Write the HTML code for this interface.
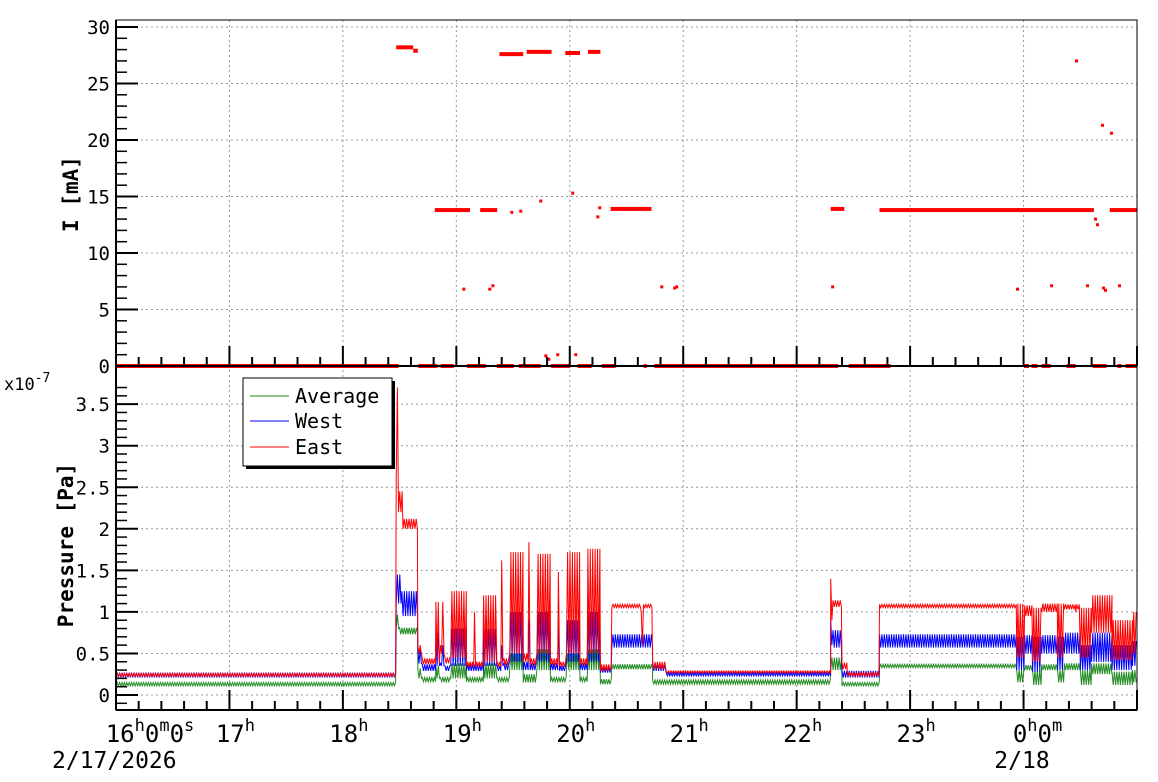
<!DOCTYPE html>
<html><head><meta charset="utf-8"><style>
html,body{margin:0;padding:0;background:#fff;}
svg{display:block;font-family:"DejaVu Sans Mono","Liberation Mono",monospace;}
</style></head><body>
<svg id="chart" width="1158" height="782" viewBox="0 0 1158 782" xmlns="http://www.w3.org/2000/svg">
<rect x="0" y="0" width="1158" height="782" fill="#fff"/>
<g id="grid"></g>
<g id="marks"></g>
<g id="axes"></g>
<text x="78" y="194" transform="rotate(-90 78 194)" text-anchor="middle" font-size="21" font-weight="bold">I [mA]</text>
<text x="73" y="545" transform="rotate(-90 73 545)" text-anchor="middle" font-size="21" font-weight="bold">Pressure [Pa]</text>
<text x="4" y="390" font-size="17">x10<tspan dy="-8" font-size="13">-7</tspan></text>
<g>
<rect x="246" y="381" width="149" height="88" fill="#000"/>
<rect x="243" y="378" width="149" height="88" fill="#fff" stroke="#000" stroke-width="1"/>
<g><line x1="250" y1="396" x2="289" y2="396" stroke="#228b22"/><text x="295" y="403" font-size="20">Average</text></g>
<g><line x1="250" y1="421" x2="289" y2="421" stroke="#0000ff"/><text x="295" y="428" font-size="20">West</text></g>
<g><line x1="250" y1="447" x2="289" y2="447" stroke="#ff0000"/><text x="295" y="454" font-size="20">East</text></g>
</g>
</svg>
<script>
// ---- data ----
const hourTicks = [16,17,18,19,20,21,22,23,24];
const hourLabels = ["16","17","18","19","20","21","22","23","0"];
const currentTicks = [0,5,10,15,20,25,30];
const pressureTicks = [0,0.5,1,1.5,2,2.5,3,3.5];
const pressureTickLabels = ["0","0.5","1","1.5","2","2.5","3","3.5"];
// current clusters: start hour, end hour, level mA
const clusterStart = [18.47,18.62,19.38,19.62,19.96,20.16,18.81,19.21,20.36,22.30,22.73,24.76];
const clusterEnd   = [18.62,18.66,19.59,19.84,20.09,20.27,19.12,19.36,20.72,22.42,24.62,25.0];
const clusterLevel = [28.2,27.9,27.6,27.8,27.7,27.8,13.8,13.8,13.9,13.9,13.8,13.8];
// isolated current samples
const singleT = [19.489,19.568,19.744,20.026,20.247,20.264,19.066,19.295,19.322,20.811,20.925,20.943,22.317,23.947,24.247,24.564,24.705,24.722,24.846,24.467,24.696,24.775,24.634,24.652,19.789,19.815,19.894,20.053];
const singleI = [13.6,13.7,14.6,15.3,13.2,14.0,6.8,6.8,7.1,7.0,6.9,7.0,7.0,6.8,7.1,7.1,6.9,6.7,7.1,27.0,21.3,20.6,13.0,12.5,0.9,0.6,1.0,1.0];
// zero-current segments
const zeroStart = [16.0,18.665,18.861,19.093,19.357,19.551,19.833,20.07,20.282,20.652,20.745,22.458,24.004,24.07,24.159,24.379,24.608,24.828,24.899];
const zeroEnd   = [18.49,18.834,18.978,19.26,19.507,19.744,20.004,20.194,20.405,20.678,22.366,22.828,24.048,24.123,24.238,24.458,24.731,24.863,25.0];
// pressure segments (x1e-7 Pa): [start h, end h, low, high]
const eastSeg = [
[16.0,18.47,0.225,0.26],[18.47,18.49,2.6,3.7],[18.49,18.53,2.2,2.45],[18.53,18.66,2.0,2.12],
[18.66,18.70,0.5,0.6],[18.70,18.82,0.37,0.44],[18.82,18.85,0.45,1.12],[18.85,18.87,0.38,0.6],
[18.87,18.90,0.5,1.12],[18.90,18.95,0.38,0.45],[18.95,19.09,0.45,1.25],[19.09,19.16,0.34,0.4],
[19.16,19.17,0.35,1.0],[19.17,19.24,0.34,0.4],[19.24,19.36,0.4,1.2],[19.36,19.40,0.34,0.4],
[19.40,19.42,0.4,1.62],[19.42,19.47,0.36,0.44],[19.47,19.59,0.5,1.72],[19.59,19.64,0.4,0.5],
[19.64,19.65,0.5,1.84],[19.65,19.71,0.36,0.44],[19.71,19.83,0.5,1.7],[19.83,19.90,0.36,0.44],
[19.90,19.91,0.4,1.48],[19.91,19.97,0.34,0.4],[19.97,20.09,0.5,1.72],[20.09,20.16,0.36,0.44],
[20.16,20.27,0.5,1.76],[20.27,20.37,0.29,0.37],[20.37,20.63,1.05,1.09],[20.63,20.65,0.6,1.0],
[20.65,20.73,1.05,1.09],[20.73,20.85,0.31,0.4],[20.85,22.30,0.265,0.29],[22.30,22.32,0.9,1.4],
[22.32,22.40,1.06,1.14],[22.40,22.45,0.31,0.39],[22.45,22.73,0.23,0.27],[22.73,23.94,1.05,1.09],
[23.94,24.01,0.45,1.1],[24.01,24.08,0.95,1.08],[24.08,24.16,0.4,1.05],[24.16,24.30,1.0,1.1],
[24.30,24.36,0.45,1.1],[24.36,24.46,1.03,1.09],[24.46,24.47,1.0,1.62],[24.47,24.50,1.03,1.09],
[24.50,24.60,0.45,1.05],[24.60,24.78,0.75,1.2],[24.78,24.96,0.42,0.9],[24.96,25.0,0.5,1.0]];
const westSeg = [
[16.0,18.47,0.21,0.27],[18.47,18.52,1.1,1.45],[18.52,18.66,0.95,1.25],[18.66,18.70,0.38,0.55],
[18.70,18.82,0.29,0.37],[18.82,18.86,0.35,0.75],[18.86,18.87,0.3,0.38],[18.87,18.90,0.35,0.6],
[18.90,18.95,0.29,0.35],[18.95,19.09,0.35,0.8],[19.09,19.24,0.29,0.37],[19.24,19.36,0.35,0.8],
[19.36,19.40,0.29,0.35],[19.40,19.42,0.35,0.6],[19.42,19.47,0.3,0.38],[19.47,19.59,0.4,1.0],
[19.59,19.64,0.3,0.4],[19.64,19.65,0.4,0.9],[19.65,19.71,0.3,0.38],[19.71,19.83,0.4,1.0],
[19.83,19.90,0.3,0.38],[19.90,19.91,0.35,0.9],[19.91,19.97,0.29,0.35],[19.97,20.09,0.4,0.9],
[20.09,20.16,0.3,0.38],[20.16,20.27,0.4,1.0],[20.27,20.37,0.27,0.33],[20.37,20.73,0.57,0.73],
[20.73,20.85,0.29,0.37],[20.85,22.30,0.23,0.27],[22.30,22.32,0.6,0.9],[22.32,22.40,0.57,0.78],
[22.40,22.73,0.21,0.29],[22.73,23.94,0.57,0.73],[23.94,24.01,0.3,0.7],[24.01,24.08,0.5,0.72],
[24.08,24.16,0.28,0.7],[24.16,24.30,0.5,0.72],[24.30,24.36,0.3,0.7],[24.36,24.50,0.5,0.75],
[24.50,24.60,0.3,0.6],[24.60,24.78,0.4,0.75],[24.78,24.96,0.3,0.6],[24.96,25.0,0.35,0.65]];
const avgSeg = [
[16.0,18.47,0.11,0.15],[18.47,18.50,0.8,0.97],[18.50,18.66,0.73,0.81],[18.66,18.70,0.2,0.32],
[18.70,18.82,0.16,0.21],[18.82,18.86,0.2,0.35],[18.86,18.95,0.16,0.21],[18.95,19.09,0.2,0.38],
[19.09,19.24,0.16,0.21],[19.24,19.36,0.2,0.38],[19.36,19.47,0.16,0.21],[19.47,19.59,0.3,0.5],
[19.59,19.71,0.15,0.25],[19.71,19.83,0.3,0.55],[19.83,19.97,0.16,0.21],[19.97,20.09,0.3,0.5],
[20.09,20.16,0.16,0.21],[20.16,20.27,0.3,0.55],[20.27,20.37,0.13,0.19],[20.37,20.73,0.31,0.37],
[20.73,22.30,0.13,0.18],[22.30,22.40,0.3,0.45],[22.40,22.73,0.11,0.15],[22.73,23.94,0.33,0.37],
[23.94,24.01,0.15,0.3],[24.01,24.08,0.3,0.36],[24.08,24.16,0.12,0.3],[24.16,24.30,0.3,0.37],
[24.30,24.36,0.15,0.3],[24.36,24.50,0.3,0.38],[24.50,24.60,0.12,0.3],[24.60,24.78,0.25,0.38],
[24.78,24.96,0.12,0.28],[24.96,25.0,0.15,0.3]];

// ---- scales ----
const X0=116, X1=1137, T0=16, T1=25;
const xS = t => X0 + (t-T0)*(X1-X0)/(T1-T0);
const yI = v => 366 - v*11.3;
const yP = v => 695 - v*83.1;
const NS="http://www.w3.org/2000/svg";
function mk(tag, attrs, parent){const e=document.createElementNS(NS,tag);for(const k in attrs)e.setAttribute(k,attrs[k]);parent.appendChild(e);return e;}
const grid=document.getElementById('grid'), marks=document.getElementById('marks'), axes=document.getElementById('axes');

// grid
hourTicks.forEach(h=>{ if(h===16) return;
  const g1=mk('line',{x1:xS(h),y1:20,x2:xS(h),y2:710,stroke:'#999','stroke-dasharray':'2,3'},grid);
  
  
});
currentTicks.forEach(v=>{ if(v===0) return;
  const g=mk('line',{x1:X0,y1:yI(v),x2:X1,y2:yI(v),stroke:'#999','stroke-dasharray':'2,3'},grid);
  
  
});
pressureTicks.forEach(v=>{
  const g=mk('line',{x1:X0,y1:yP(v),x2:X1,y2:yP(v),stroke:'#999','stroke-dasharray':'2,3'},grid);
  
  
});

// current marks
zeroStart.forEach((s,i)=>{
  const r=mk('rect',{x:xS(s),y:yI(0)-2,width:Math.max(1,xS(zeroEnd[i])-xS(s)),height:4,fill:'#f00'},marks);
  
  
});
clusterStart.forEach((s,i)=>{
  const r=mk('rect',{x:xS(s),y:yI(clusterLevel[i])-2,width:Math.max(2,xS(clusterEnd[i])-xS(s)),height:4,fill:'#f00'},marks);
  
  
});
singleT.forEach((t,i)=>{
  const r=mk('rect',{x:xS(t)-1.5,y:yI(singleI[i])-1.5,width:3,height:3,fill:'#f00'},marks);
  
  
});

// pressure lines
function seriesPath(seg){
  let d='', k=0;
  seg.forEach(([a,b,lo,hi])=>{
    const xa=xS(a), xb=xS(b);
    for(let x=xa; x<=xb; x+=1.2){
      const v = (k%2===0)?lo:hi; k++;
      d += (d===''?'M':'L') + x.toFixed(1)+','+yP(v).toFixed(1);
    }
  });
  return d;
}
const pa=mk('path',{d:seriesPath(avgSeg),fill:'none',stroke:'#228b22','stroke-width':1},marks);


const pw=mk('path',{d:seriesPath(westSeg),fill:'none',stroke:'#0000ff','stroke-width':1},marks);


const pe=mk('path',{d:seriesPath(eastSeg),fill:'none',stroke:'#ff0000','stroke-width':1},marks);



// frames
const f1=mk('rect',{x:X0,y:20,width:X1-X0,height:346,fill:'none',stroke:'#000','stroke-width':1},axes);


const f2=mk('rect',{x:X0,y:366,width:X1-X0,height:344,fill:'none',stroke:'#000','stroke-width':1},axes);


mk('line',{x1:X0,y1:20,x2:X0,y2:710,stroke:'#000','stroke-width':2},axes);
mk('line',{x1:X0,y1:366,x2:X1,y2:366,stroke:'#000','stroke-width':2},axes);
mk('line',{x1:X0,y1:710,x2:X1,y2:710,stroke:'#000','stroke-width':2},axes);

// current y ticks
for(let v=0; v<=30; v++){
  const major = v%5===0;
  mk('line',{x1:X0,y1:yI(v),x2:X0+(major?22:11),y2:yI(v),stroke:'#000','stroke-width':major?2:1.5},axes);
}
currentTicks.forEach(v=>{
  const t=mk('text',{x:X0-6,y:yI(v)+7,'text-anchor':'end','font-size':19},axes);
  t.textContent=String(v);
  
  
});
// pressure y ticks
for(let i=-1; i<=37; i++){
  const v=i/10; if(yP(v)>710||yP(v)<366) continue;
  const major = i%5===0;
  mk('line',{x1:X0,y1:yP(v),x2:X0+(major?22:11),y2:yP(v),stroke:'#000','stroke-width':major?2:1.5},axes);
}
pressureTicks.forEach((v,i)=>{
  const t=mk('text',{x:X0-6,y:yP(v)+7,'text-anchor':'end','font-size':19},axes);
  t.textContent=pressureTickLabels[i];
  
  
});
// x ticks (both panels)
for(let i=0;i<=45;i++){
  const t=T0+i*0.2; const major=(i%5===0);
  [366,710].forEach(yb=>{
    mk('line',{x1:xS(t),y1:yb,x2:xS(t),y2:yb-(major?20:9),stroke:'#000','stroke-width':2},axes);
  });
}
// x labels
hourTicks.forEach((h,i)=>{
  const t=mk('text',{x:xS(h),y:742,'text-anchor':'middle','font-size':24},axes);
  
  
  if(i===0){ t.innerHTML='16<tspan dy="-11" font-size="17">h</tspan><tspan dy="11">0</tspan><tspan dy="-11" font-size="17">m</tspan><tspan dy="11">0</tspan><tspan dy="-11" font-size="17">s</tspan>'; t.setAttribute('x',xS(h)+34); }
  else if(h===24){ t.innerHTML='0<tspan dy="-11" font-size="17">h</tspan><tspan dy="11">0</tspan><tspan dy="-11" font-size="17">m</tspan>'; t.setAttribute('x',xS(h)+14); }
  else { t.innerHTML=hourLabels[i]+'<tspan dy="-11" font-size="17">h</tspan>'; t.setAttribute('x',xS(h)+6); }
});
const d1=mk('text',{x:52,y:768,'font-size':23},axes); d1.textContent='2/17/2026';


const d2=mk('text',{x:1022,y:768,'text-anchor':'middle','font-size':23},axes); d2.textContent='2/18';


</script>
</body></html>
